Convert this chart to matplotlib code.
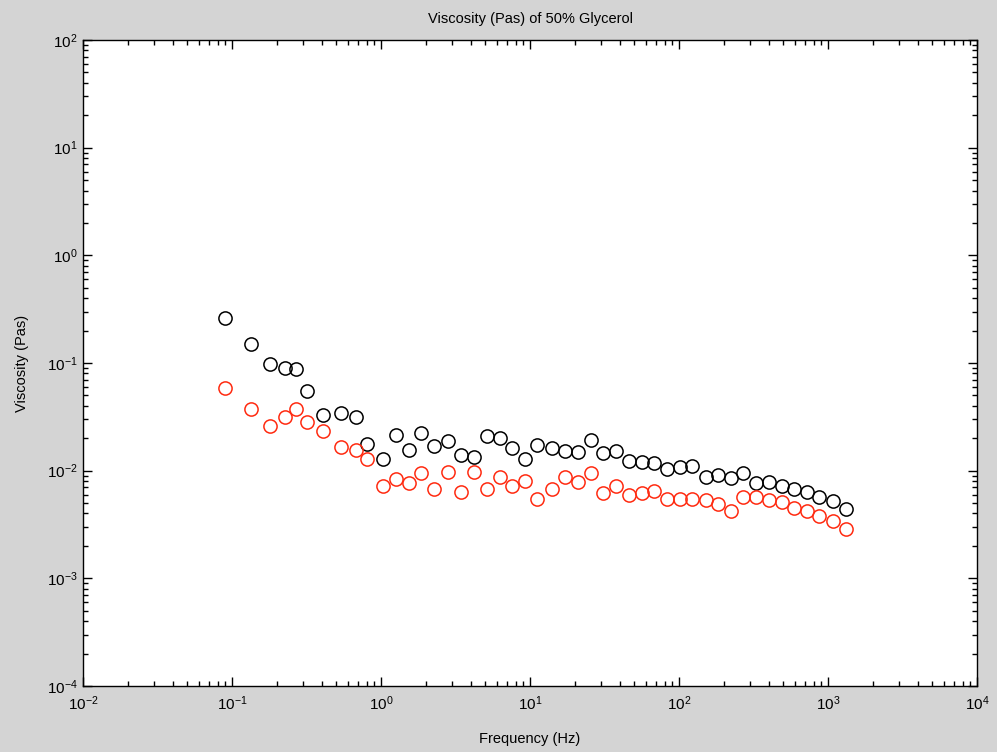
import numpy as np
import matplotlib
matplotlib.use('Agg')
from matplotlib import pyplot as plt
from matplotlib.ticker import FixedLocator, NullFormatter

plt.rcParams['font.family'] = ['Liberation Sans', 'DejaVu Sans']
plt.rcParams['mathtext.fontset'] = 'custom'
plt.rcParams['mathtext.rm'] = 'Liberation Sans'
plt.rcParams['mathtext.it'] = 'Liberation Sans'
plt.rcParams['axes.unicode_minus'] = False

# frequency (Hz)
freq = [0.090, 0.135, 0.180, 0.227, 0.268, 0.317, 0.408, 0.542, 0.676, 0.802,
        1.03, 1.26, 1.53, 1.86, 2.28, 2.83, 3.44, 4.21, 5.14, 6.29,
        7.61, 9.26, 11.2, 14.0, 17.2, 20.9, 25.6, 31.0, 37.8, 46.2,
        56.2, 68.0, 83.5, 102, 123, 151, 182, 222, 270, 329,
        402, 489, 594, 726, 874, 1075, 1315]

# black series
visc_a = [0.260, 0.150, 0.0979, 0.0904, 0.0874, 0.0550, 0.0329, 0.0343, 0.0317, 0.0177,
          0.0129, 0.0213, 0.0156, 0.0222, 0.0171, 0.0190, 0.0141, 0.0135, 0.0208, 0.0200,
          0.0163, 0.0128, 0.0173, 0.0163, 0.0152, 0.0150, 0.0193, 0.0147, 0.0152, 0.0124,
          0.0120, 0.0117, 0.0103, 0.0107, 0.0111, 0.0087, 0.0091, 0.0085, 0.0096, 0.0077,
          0.0078, 0.0072, 0.0067, 0.0064, 0.0057, 0.0052, 0.0044]

# red series
visc_b = [0.0582, 0.0372, 0.0262, 0.0317, 0.0374, 0.0281, 0.0232, 0.0165, 0.0156, 0.0129,
          0.0072, 0.0084, 0.0077, 0.0095, 0.0067, 0.0098, 0.0063, 0.0098, 0.0067, 0.0088,
          0.0072, 0.0081, 0.0055, 0.0067, 0.0088, 0.0079, 0.0096, 0.0062, 0.0072, 0.0059,
          0.0062, 0.0065, 0.0055, 0.0055, 0.0055, 0.0053, 0.0049, 0.0042, 0.0057, 0.0057,
          0.0053, 0.0051, 0.0045, 0.0042, 0.0038, 0.0034, 0.0029]

x_decades = [-2, -1, 0, 1, 2, 3, 4]
y_decades = [-4, -3, -2, -1, 0, 1, 2]

fig = plt.figure(figsize=(9.97, 7.52), dpi=100, facecolor='#d4d4d4')
ax = fig.add_axes([0.0833, 0.0878, 0.8967, 0.859])
ax.set_facecolor('white')

ax.loglog(freq, visc_a, 'o', mfc='none', mec='black', ms=9.5, mew=1.1)
ax.loglog(freq, visc_b, 'o', mfc='none', mec='#ff2a10', ms=9.5, mew=1.1)

ax.set_xlim(1e-2, 1e4)
ax.set_ylim(1e-4, 1e2)

xt = [10.0 ** d for d in x_decades]
yt = [10.0 ** d for d in y_decades]
ax.set_xticks(xt, ['$10^{%d}$' % d for d in x_decades])
ax.set_yticks(yt, ['$10^{%d}$' % d for d in y_decades])
xminor = [m * 10.0 ** d for d in x_decades[:-1] for m in range(2, 10)]
yminor = [m * 10.0 ** d for d in y_decades[:-1] for m in range(2, 10)]
ax.xaxis.set_minor_locator(FixedLocator(xminor))
ax.yaxis.set_minor_locator(FixedLocator(yminor))
ax.xaxis.set_minor_formatter(NullFormatter())
ax.yaxis.set_minor_formatter(NullFormatter())

ax.tick_params(which='both', direction='in', top=True, right=True, labelsize=11, colors='black')
ax.tick_params(which='major', length=6.5, width=1)
ax.tick_params(which='minor', length=3.5, width=1)
ax.tick_params(axis='x', pad=6)
ax.tick_params(axis='y', pad=4)
for s in ax.spines.values():
    s.set_linewidth(1.0)

ax.set_title('Viscosity (Pas) of 50% Glycerol', fontsize=10.5, pad=12)
ax.set_xlabel('Frequency (Hz)', fontsize=10.5, labelpad=14)
ax.set_ylabel('Viscosity (Pas)', fontsize=10.5, labelpad=13)

fig.savefig('out.png', dpi=100, facecolor=fig.get_facecolor())
